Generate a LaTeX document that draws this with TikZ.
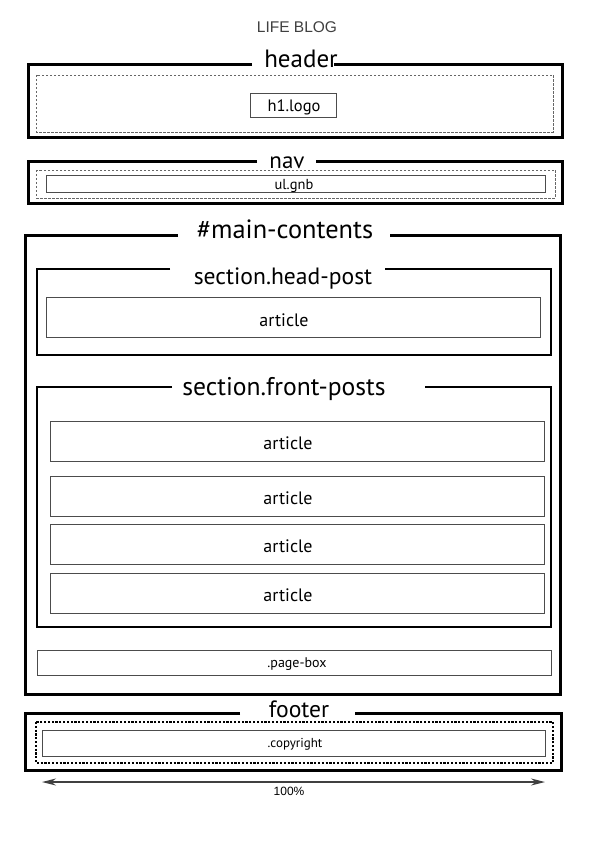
\documentclass[tikz,border=0pt]{standalone}
\usepackage{fontspec}
\setmainfont{PT Sans}
\newfontfamily\thinfont{Liberation Sans}
\usetikzlibrary{arrows.meta}
\tikzset{
  frame/.style={line width=3pt, black},
  secframe/.style={line width=2.8pt, black},
  innerbox/.style={draw=black!70, line width=1pt, inner sep=0pt},
  dashbox/.style={draw=black!60, line width=0.8pt, dash pattern=on 2.5pt off 1.5pt},
  dotbox/.style={draw=black, line width=1.6pt, dash pattern=on 2.2pt off 1.6pt},
  title/.style={inner sep=0pt, anchor=base},
  lbl/.style={inner sep=0pt},
  boxlbl/.style={inner sep=0pt, anchor=base},
}
\begin{document}
\begin{tikzpicture}[x=1pt,y=-1pt]
\useasboundingbox (0,0) rectangle (595,842);
% title
\node[lbl, font=\thinfont\fontsize{15.5}{15.5}\selectfont, text=black!75] (blog) at (297,27) {LIFE BLOG};

% header
\draw[frame] (252,65) -- (28,65) -- (28,138) -- (562,138) -- (562,65) -- (334,65);
\node[title, font=\fontsize{25}{25}\selectfont] (headert) at (301,68) {header};
\draw[dashbox] (36,75) rectangle (553,132);
\node[innerbox, minimum width=86pt, minimum height=24pt] (logo) at (293,106) {};
\node[boxlbl, font=\fontsize{16.5}{16.5}\selectfont] (logot) at (294,111.5) {h1.logo};

% nav
\draw[frame] (257,162) -- (28,162) -- (28,204) -- (562,204) -- (562,162) -- (316,162);
\node[title, font=\fontsize{23}{23}\selectfont] (navt) at (287,169) {nav};
\draw[dashbox] (36,170) rectangle (555,198);
\node[innerbox, minimum width=499pt, minimum height=17pt] (gnb) at (295.5,184.5) {};
\node[boxlbl, font=\fontsize{14.5}{14.5}\selectfont] (gnbt) at (294,189.5) {ul.gnb};

% main contents
\draw[frame] (178,235) -- (25,235) -- (25,694) -- (560,694) -- (560,235) -- (390,235);
\node[title, font=\fontsize{26.4}{26.4}\selectfont] (maint) at (285,238) {\#main-contents};

% section head-post
\draw[secframe] (170,269) -- (37,269) -- (37,355) -- (551,355) -- (551,269) -- (385,269);
\node[title, font=\fontsize{23.6}{23.6}\selectfont] (headpost) at (283,284) {section.head-post};
\node[innerbox, minimum width=494pt, minimum height=40pt] (art0) at (293,317) {};
\node[boxlbl, font=\fontsize{18}{18}\selectfont] (art0t) at (284,326) {article};

% section front-posts
\draw[secframe] (172,387) -- (37,387) -- (37,627) -- (551,627) -- (551,387) -- (425,387);
\node[title, font=\fontsize{25.6}{25.6}\selectfont] (frontposts) at (284,395) {section.front-posts};
\node[innerbox, minimum width=494pt, minimum height=40pt] (art1) at (297,441) {};
\node[innerbox, minimum width=494pt, minimum height=40pt] (art2) at (297,496) {};
\node[innerbox, minimum width=494pt, minimum height=40pt] (art3) at (297,544) {};
\node[innerbox, minimum width=494pt, minimum height=40pt] (art4) at (297,593) {};
\node[boxlbl, font=\fontsize{18}{18}\selectfont] (art1t) at (288,449) {article};
\node[boxlbl, font=\fontsize{18}{18}\selectfont] (art2t) at (288,504) {article};
\node[boxlbl, font=\fontsize{18}{18}\selectfont] (art3t) at (288,552) {article};
\node[boxlbl, font=\fontsize{18}{18}\selectfont] (art4t) at (288,601) {article};

% page box
\node[innerbox, minimum width=514pt, minimum height=25pt] (pagebox) at (294,662.5) {};
\node[boxlbl, font=\fontsize{14}{14}\selectfont] (pageboxt) at (297,667) {.page-box};

% footer
\draw[frame] (240,713) -- (25,713) -- (25,770) -- (561,770) -- (561,713) -- (355,713);
\node[title, font=\fontsize{23.6}{23.6}\selectfont] (footert) at (299,717) {footer};
\draw[dotbox] (36,722) rectangle (553,763);
\node[innerbox, minimum width=503pt, minimum height=26pt] (copy) at (293.5,743) {};
\node[boxlbl, font=\fontsize{13}{13}\selectfont] (copyt) at (295,747) {.copyright};

% width arrow
\coordinate (al) at (42,782);
\coordinate (ar) at (545,782);
\draw[black!75, line width=1.6pt, {Stealth[length=14pt,width=7pt]}-{Stealth[length=14pt,width=7pt]}] (al) -- (ar);
\node[lbl, font=\thinfont\fontsize{12}{12}\selectfont] (pct) at (289,791) {100\%};
\end{tikzpicture}
\end{document}
